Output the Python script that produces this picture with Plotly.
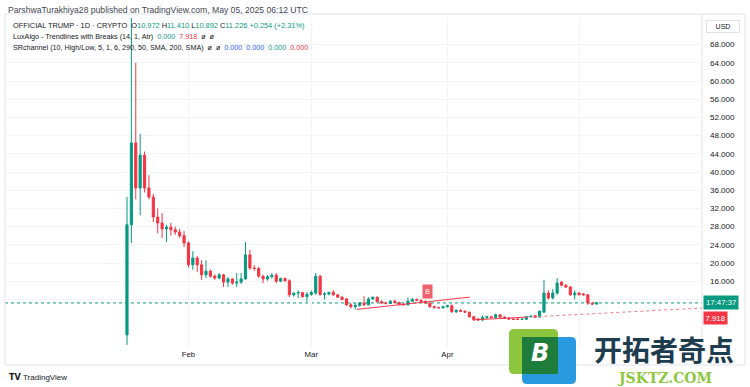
import pandas as pd
import plotly.graph_objects as go

# ---------------- data ----------------
start_date = "2025-01-18"
opens = [4.2, 28.4, 46.4, 36.5, 43.7, 36.5, 34.5, 30.1, 28.8, 27.5,
         27.9, 27.3, 26.8, 26.0, 24.4, 19.6, 21.1, 19.6, 17.4, 18.2,
         17.1, 16.7, 17.4, 15.8, 16.5, 15.6, 15.8, 16.5, 21.8, 18.9,
         18.8, 17.1, 16.5, 17.0, 17.3, 16.0, 16.6, 16.1, 13.0, 13.4,
         13.5, 12.6, 13.1, 13.4, 17.1, 13.1, 13.2, 13.6, 13.0, 12.5,
         12.1, 10.8, 10.4, 10.7, 11.2, 10.8, 12.1, 12.5, 11.5, 11.2,
         11.1, 11.6, 11.3, 10.9, 10.8, 11.6, 12.0, 11.8, 11.5, 11.2,
         10.4, 10.2, 10.15, 10.4, 10.6, 9.3, 9.6, 9.4, 9.2, 8.2,
         7.7, 7.5, 8.0, 8.2, 8.0, 8.6, 8.1, 7.9, 7.7, 7.7,
         7.6, 7.65, 8.2, 8.4, 8.1, 9.2, 13.4, 12.3, 13.4, 15.8,
         15.1, 14.7, 13.0, 13.4, 13.2, 13.0, 11.1, 10.972]
highs = [34.5, 75.0, 64.0, 48.4, 44.5, 39.3, 35.2, 32.0, 31.0, 28.4,
         28.8, 28.0, 27.5, 27.0, 24.8, 22.6, 21.5, 20.6, 20.6, 18.6,
         17.5, 17.8, 17.6, 16.9, 16.6, 17.8, 17.8, 24.6, 22.9, 19.5,
         19.2, 17.4, 17.4, 17.8, 17.8, 16.8, 16.8, 16.4, 13.5, 14.0,
         13.6, 13.6, 14.0, 17.8, 17.4, 13.6, 13.7, 14.0, 13.2, 12.7,
         12.3, 11.2, 11.2, 11.4, 12.7, 12.5, 12.6, 12.6, 11.8, 11.5,
         11.9, 11.9, 11.5, 11.2, 12.4, 12.3, 12.2, 12.0, 11.8, 11.3,
         10.6, 10.4, 10.5, 10.8, 10.9, 9.8, 9.8, 9.6, 9.3, 8.4,
         7.9, 8.5, 8.4, 8.4, 8.9, 8.8, 8.3, 8.0, 7.9, 7.9,
         7.8, 8.4, 8.5, 8.6, 9.6, 16.3, 14.0, 14.3, 16.7, 16.0,
         15.4, 15.0, 14.0, 13.6, 13.4, 13.2, 11.5, 11.410]
lows = [2.0, 24.4, 34.0, 30.5, 35.5, 34.0, 29.0, 26.5, 25.5, 24.6,
        26.0, 26.2, 25.5, 23.5, 19.0, 18.5, 18.0, 16.3, 16.7, 16.8,
        16.3, 16.4, 14.7, 14.7, 15.2, 14.7, 15.4, 16.3, 18.5, 18.3,
        16.8, 15.6, 16.1, 16.6, 15.6, 15.8, 15.9, 12.5, 12.6, 12.3,
        12.4, 11.5, 12.8, 13.0, 12.8, 12.0, 12.9, 12.8, 12.3, 11.8,
        10.6, 10.0, 9.8, 10.4, 10.6, 10.7, 11.9, 11.3, 11.0, 10.9,
        11.0, 11.1, 10.8, 10.7, 10.7, 11.5, 11.6, 11.2, 11.0, 10.2,
        10.0, 10.0, 10.0, 10.2, 9.0, 9.0, 9.2, 9.1, 8.0, 7.3,
        7.3, 7.2, 7.7, 7.9, 7.9, 8.0, 7.8, 7.5, 7.5, 7.5,
        7.5, 7.5, 8.0, 8.0, 8.0, 9.0, 12.0, 12.0, 13.0, 14.9,
        14.6, 12.8, 12.0, 12.9, 12.8, 10.8, 10.8, 10.892]
closes = [28.4, 46.4, 36.5, 43.7, 36.5, 34.5, 30.1, 28.8, 27.5, 27.9,
          27.3, 26.8, 26.0, 24.4, 19.6, 21.1, 19.6, 17.4, 18.2, 17.1,
          16.7, 17.4, 15.8, 16.5, 15.6, 15.8, 16.5, 21.8, 18.9, 18.8,
          17.1, 16.5, 17.0, 17.3, 16.0, 16.6, 16.1, 13.0, 13.4, 13.5,
          12.6, 13.1, 13.5, 17.1, 13.1, 13.2, 13.5, 13.0, 12.5, 12.0,
          10.8, 10.4, 10.7, 11.2, 10.8, 12.1, 12.5, 11.5, 11.2, 11.1,
          11.6, 11.3, 10.9, 10.8, 11.6, 12.0, 11.8, 11.5, 11.2, 10.4,
          10.2, 10.15, 10.4, 10.6, 9.3, 9.6, 9.4, 9.2, 8.2, 7.6,
          7.5, 8.0, 8.2, 8.0, 8.6, 8.1, 7.9, 7.7, 7.6, 7.6,
          7.65, 8.2, 8.3, 8.1, 9.4, 13.4, 12.3, 13.4, 15.6, 15.1,
          14.7, 13.0, 13.4, 13.0, 13.0, 11.2, 10.97, 11.226]
dates = pd.date_range(start_date, periods=len(closes), freq="D")

# LuxAlgo trendlines
trend1_dates = ["2025-03-11 08:00", "2025-04-06 02:00"]
trend1_vals = [9.8, 12.5]
trend2_solid_dates = ["2025-04-06 18:00", "2025-04-19 00:00"]
trend2_solid_vals = [7.5, 8.1]
trend2_dash_dates = ["2025-04-19 00:00", "2025-05-29 00:00"]
trend2_dash_vals = [8.1, 10.1]
break_date = "2025-03-27 12:00"
break_val = 13.8
trend_label_val = 7.918

y_ticks = [12, 16, 20, 24, 28, 32, 36, 40, 44, 48, 52, 56, 60, 64, 68]
y_ticktext = ["%.3f" % v for v in y_ticks]
x_ticks = ["2025-02-01", "2025-03-01", "2025-04-01", "2025-05-01"]
x_ticktext = ["Feb", "Mar", "Apr", ""]

GREEN = "#089981"
RED = "#f23645"
FONT = "Liberation Sans"

# ---------------- figure ----------------
L, R, T, B = 5, 702, 18, 348
W, H = 750, 387


def px(x):
    return (x - L) / (R - L)


def py(y):
    return (B - y) / (B - T)


fig = go.Figure()
fig.add_trace(go.Candlestick(
    x=dates, open=opens, high=highs, low=lows, close=closes,
    increasing=dict(line=dict(color=GREEN, width=1), fillcolor=GREEN),
    decreasing=dict(line=dict(color=RED, width=1), fillcolor=RED),
    whiskerwidth=0, hoverinfo="skip", showlegend=False,
))
fig.add_trace(go.Scatter(x=trend1_dates, y=trend1_vals, mode="lines",
                         line=dict(color=RED, width=1), hoverinfo="skip", showlegend=False))
fig.add_trace(go.Scatter(x=trend2_solid_dates, y=trend2_solid_vals, mode="lines",
                         line=dict(color=RED, width=1), hoverinfo="skip", showlegend=False))
fig.add_trace(go.Scatter(x=trend2_dash_dates, y=trend2_dash_vals, mode="lines",
                         line=dict(color="#f07a83", width=1, dash="3px,3px"), hoverinfo="skip",
                         showlegend=False))

shapes = []
# last price dotted line
shapes.append(dict(type="line", xref="paper", x0=0, x1=1, yref="y", y0=closes[-1], y1=closes[-1],
                   line=dict(color=GREEN, width=1, dash="dot"), layer="below"))
# outer frame
shapes.append(dict(type="rect", xref="paper", yref="paper", x0=px(5), x1=px(745), y0=py(365), y1=py(14),
                   line=dict(color="#e0e3eb", width=1), layer="below"))
shapes.append(dict(type="line", xref="paper", yref="paper", x0=px(702), x1=px(702), y0=py(365), y1=py(14),
                   line=dict(color="#e0e3eb", width=1), layer="below"))


def rrect(x0, y0, x1, y1, r, color):
    X0, X1 = px(x0), px(x1)
    Y0, Y1 = py(y0), py(y1)
    rx = r / (R - L)
    ry = r / (B - T)
    path = (f"M {X0+rx},{Y0} L {X1-rx},{Y0} Q {X1},{Y0} {X1},{Y0-ry} "
            f"L {X1},{Y1+ry} Q {X1},{Y1} {X1-rx},{Y1} L {X0+rx},{Y1} "
            f"Q {X0},{Y1} {X0},{Y1+ry} L {X0},{Y0-ry} Q {X0},{Y0} {X0+rx},{Y0} Z")
    return dict(type="path", xref="paper", yref="paper", path=path,
                fillcolor=color, line=dict(width=0), layer="above")


# watermark logo
shapes.append(rrect(522, 337, 576, 384, 5, "#2a9ae0"))
shapes.append(rrect(509, 329, 558, 374, 5, "#8cc63f"))
shapes.append(dict(type="rect", xref="paper", yref="paper", x0=px(522), x1=px(558), y0=py(337), y1=py(374),
                   fillcolor="#1f7d3b", line=dict(width=0), layer="above"))

annotations = []
hdr = dict(xref="paper", yref="paper", xanchor="left", yanchor="middle", showarrow=False,
           font=dict(family=FONT, size=7.2, color="#131722"))
g = lambda s: f"<span style='color:{GREEN}'>{s}</span>"
r = lambda s: f"<span style='color:{RED}'>{s}</span>"
b = lambda s: f"<span style='color:#2962ff'>{s}</span>"
annotations.append(dict(hdr, x=px(6), y=py(10), text="ParshwaTurakhiya28 published on TradingView.com, May 05, 2025 06:12 UTC",
                        font=dict(family=FONT, size=8.6, color="#434651")))
annotations.append(dict(hdr, x=px(11), y=py(25),
                        text=("OFFICIAL TRUMP · 1D · CRYPTO  O" + g("%.3f" % opens[-1]) + " H" + g("%.3f" % highs[-1])
                              + " L" + g("%.3f" % lows[-1]) + " C" + g("%.3f" % closes[-1])
                              + " " + g("+0.254 (+2.31%)")), font=dict(family=FONT, size=7.4, color="#131722")))
annotations.append(dict(hdr, x=px(11), y=py(36),
                        text="LuxAlgo - Trendlines with Breaks (14, 1, Atr)  " + g("0.000") + "  " + r("%.3f" % trend_label_val) + "  ø  ø"))
annotations.append(dict(hdr, x=px(11), y=py(47),
                        text="SRchannel (10, High/Low, 5, 1, 6, 290, 50, SMA, 200, SMA)  ø  ø  "
                             + b("0.000") + "  " + b("0.000") + "  " + g("0.000") + "  " + r("0.000")))
# USD box
annotations.append(dict(xref="paper", yref="paper", x=px(723), y=py(26), xanchor="center", yanchor="middle",
                        text="USD", showarrow=False,
                        font=dict(family=FONT, size=7, color="#131722"), bgcolor="white",
                        bordercolor="#e0e3eb", borderwidth=1, borderpad=2, width=28))
# price label & trend label on axis
annotations.append(dict(xref="paper", yref="y", x=px(703), y=closes[-1], xanchor="left", yanchor="middle",
                        text="17:47:37", showarrow=False, font=dict(family=FONT, size=7.8, color="white"),
                        bgcolor=GREEN, borderpad=2))
annotations.append(dict(xref="paper", yref="y", x=px(703), y=trend_label_val, xanchor="left", yanchor="middle",
                        text="7.918", showarrow=False, font=dict(family=FONT, size=7.8, color="white"),
                        bgcolor=RED, borderpad=1.5))
# break label
annotations.append(dict(xref="x", yref="y", x=break_date, y=break_val, xanchor="center", yanchor="middle",
                        text="B", showarrow=False,
                        font=dict(family=FONT, size=7.5, color="white"), bgcolor="#f0616b", borderpad=2))
# footer
annotations.append(dict(xref="paper", yref="paper", x=px(7), y=py(377), xanchor="left", yanchor="middle",
                        text="<b>TV</b>", showarrow=False, font=dict(family="DejaVu Sans", size=8, color="#131722")))
annotations.append(dict(xref="paper", yref="paper", x=px(21), y=py(377), xanchor="left", yanchor="middle",
                        text="TradingView", showarrow=False, font=dict(family=FONT, size=8, color="#131722")))
# watermark text
annotations.append(dict(xref="paper", yref="paper", x=px(540), y=py(353), xanchor="center", yanchor="middle",
                        text="<b><i>B</i></b>", showarrow=False,
                        font=dict(family="DejaVu Sans", size=24, color="white")))
annotations.append(dict(xref="paper", yref="paper", x=px(664), y=py(349), xanchor="center", yanchor="middle",
                        text="<b>开拓者奇点</b>", showarrow=False,
                        font=dict(family="Noto Sans CJK SC", size=28, color="#1d3d4f")))
annotations.append(dict(xref="paper", yref="paper", x=px(664), y=py(378), xanchor="center", yanchor="middle",
                        text="<b>JSKTZ.COM</b>", showarrow=False,
                        font=dict(family="DejaVu Serif", size=14, color="#8dc63f")))

fig.update_layout(
    width=W, height=H,
    margin=dict(l=L, r=W - R, t=T, b=H - B),
    paper_bgcolor="white", plot_bgcolor="white",
    showlegend=False,
    shapes=shapes, annotations=annotations,
    xaxis=dict(range=["2024-12-21 05:00", "2025-05-29 00:00"], rangeslider=dict(visible=False),
               tickvals=x_ticks, ticktext=x_ticktext, showgrid=True, gridcolor="#f2f4f8", gridwidth=1,
               zeroline=False, showline=False, ticks="", tickfont=dict(family=FONT, size=7.8, color="#131722"),
               fixedrange=True, automargin=False),
    yaxis=dict(side="right", range=[1.32, 73.85], tickvals=y_ticks, ticktext=y_ticktext,
               showgrid=True, gridcolor="#f2f4f8", gridwidth=1, zeroline=False, showline=False,
               ticks="", ticklabelstandoff=7, tickfont=dict(family=FONT, size=8, color="#131722"),
               fixedrange=True, automargin=False),
    hovermode=False,
)

fig.write_html("out.html", config={"displayModeBar": False, "staticPlot": True},
               post_script="document.body.style.margin='0';document.body.style.overflow='hidden';")
